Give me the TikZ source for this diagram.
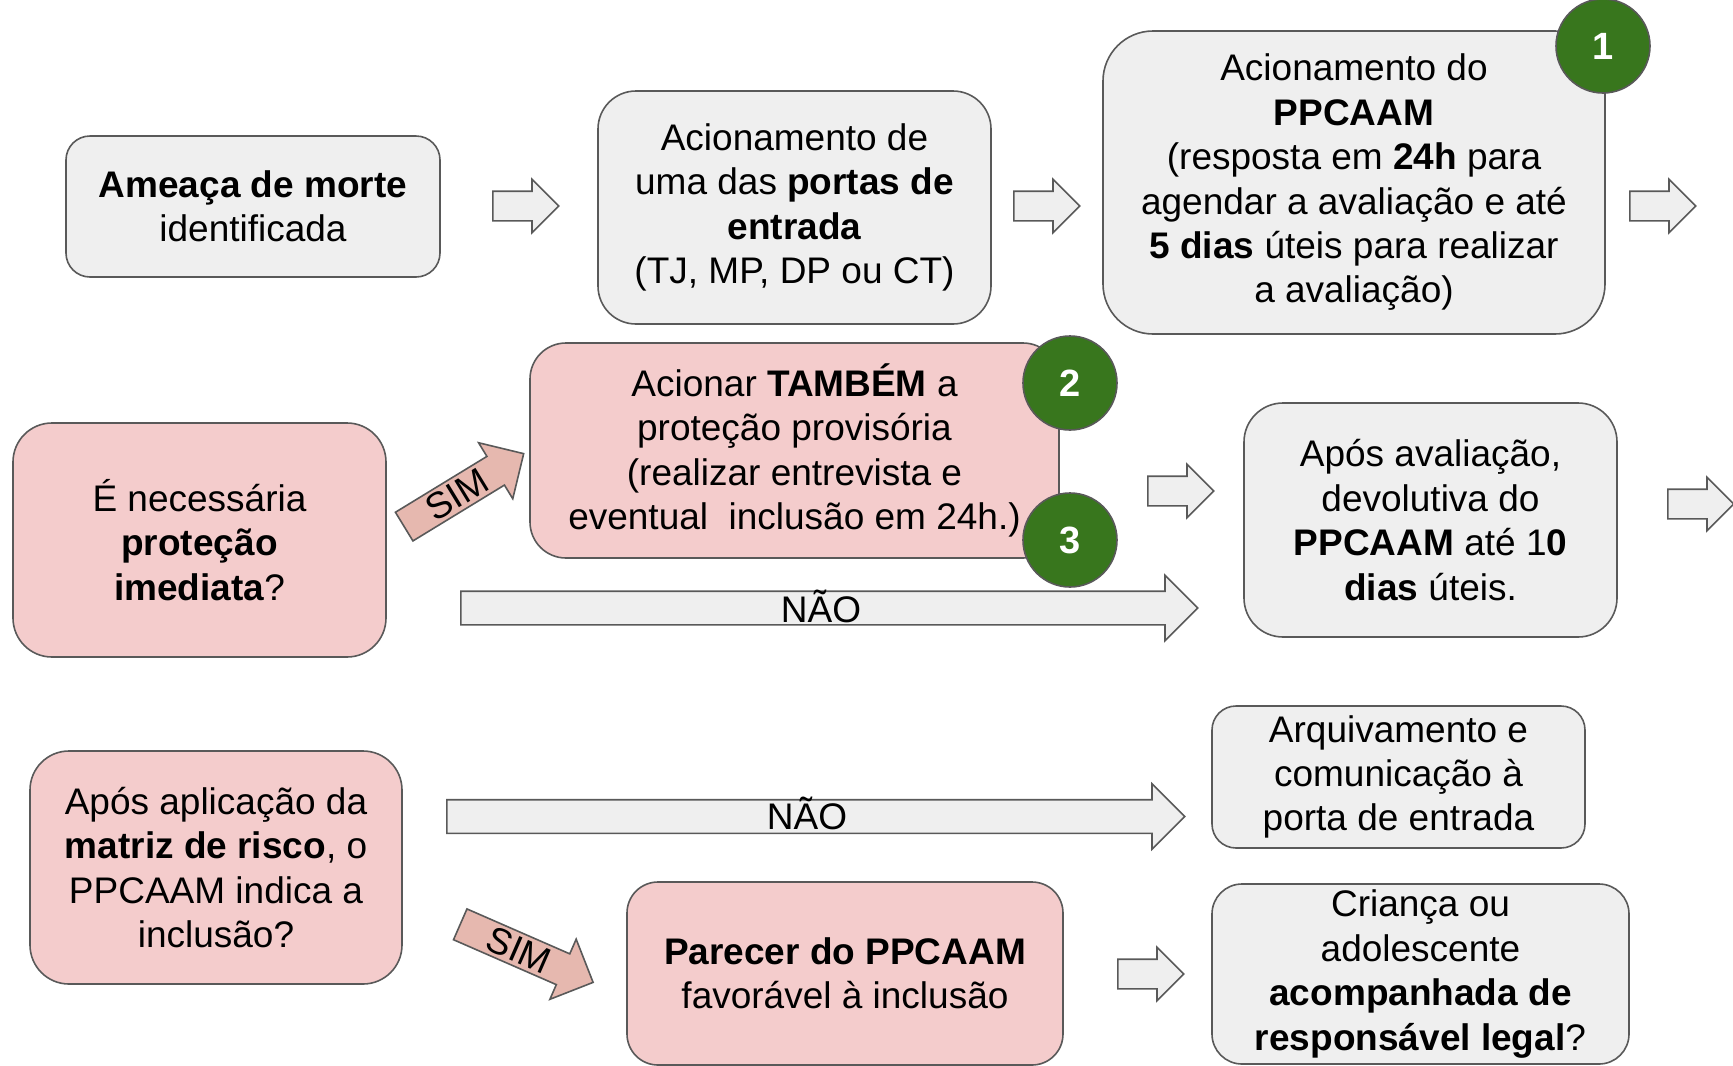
\documentclass[tikz,border=0pt]{standalone}
\usepackage{fontspec}
\setmainfont{Liberation Sans}
\usetikzlibrary{shapes.arrows}

\definecolor{cinza}{HTML}{EFEFEF}
\definecolor{borda}{HTML}{595959}
\definecolor{rosa}{HTML}{F4CCCC}
\definecolor{rosaseta}{HTML}{E6B8AF}
\definecolor{verde}{HTML}{38761D}

\tikzset{
  caixa/.style={draw=borda, line width=1.6pt, align=center, inner sep=0pt,
    font=\fontsize{37}{44.4}\selectfont},
  caixacinza/.style={caixa, fill=cinza},
  caixarosa/.style={caixa, fill=rosa},
  seta/.style={single arrow, draw=borda, fill=cinza, line width=1.6pt, anchor=tail,
    inner xsep=0pt, inner ysep=14pt,
    single arrow tip angle=90, single arrow head extend=12pt, minimum height=66pt},
  setalonga/.style={seta, inner ysep=16pt, single arrow head extend=16pt},
  setasim/.style={setalonga, fill=rosaseta, inner ysep=0pt, text height=29pt, text depth=3pt,
    font=\fontsize{37}{44.4}\selectfont},
  numero/.style={circle, draw=borda, fill=verde, line width=1.6pt, minimum size=94pt,
    inner sep=0pt, text=white, font=\fontsize{38}{44.4}\selectfont\bfseries},
}

\begin{document}
\begin{tikzpicture}[x=1pt,y=-1pt]
    \useasboundingbox (0,0) rectangle (1733,1066);

    % first row
    \node[caixacinza, rounded corners=24pt, minimum width=374pt, minimum height=141pt]
      (ameaca) at (253,206.5) {\textbf{Ameaça de morte}\\identificada};
    \node[caixacinza, rounded corners=38pt, minimum width=393pt, minimum height=233pt]
      (portas) at (794.5,207.5) {Acionamento de\\uma das \textbf{portas de}\\\textbf{entrada}\\(TJ, MP, DP ou CT)};
    \node[caixacinza, rounded corners=50pt, minimum width=502pt, minimum height=303pt]
      (ppcaam) at (1354,182.5) {Acionamento do\\\textbf{PPCAAM}\\(resposta em \textbf{24h} para\\agendar a avaliação e até\\\textbf{5 dias} úteis para realizar\\a avaliação)};
    \node[numero] (um) at (1603,46) {1};

    \node[seta] (s1) at (492,206) {};
    \node[seta] (s2) at (1013,206) {};
    \node[seta] (s3) at (1629,206) {};

    % second row
    \node[caixarosa, rounded corners=39pt, minimum width=373pt, minimum height=234pt]
      (imediata) at (199.5,540) {É necessária\\\textbf{proteção}\\\textbf{imediata}?};
    \node[caixarosa, rounded corners=36pt, minimum width=529pt, minimum height=215pt]
      (provisoria) at (794.5,450.5) {Acionar \textbf{TAMBÉM} a\\proteção provisória\\(realizar entrevista e\\eventual\ \ inclusão em 24h.)};
    \node[numero] (dois) at (1070,383) {2};
    \node[numero] (tres) at (1070,540) {3};
    \node[caixacinza, rounded corners=39pt, minimum width=373pt, minimum height=234pt]
      (devolutiva) at (1430.5,520) {Após avaliação,\\devolutiva do\\\textbf{PPCAAM} até 1\textbf{0}\\\textbf{dias} úteis.};

    \node[setasim, rotate=31.4, minimum height=140pt] (sim1) at (403.5,527) {SIM};
    \node[setalonga, minimum height=737pt] (nao1) at (460,608) {};
    \node[anchor=base, font=\fontsize{37}{44.4}\selectfont] (nao1txt) at (821,622) {NÃO};
    \node[seta] (s4) at (1147,491) {};
    \node[seta] (s5) at (1667,504) {};

    % third row
    \node[caixarosa, rounded corners=39pt, minimum width=372pt, minimum height=233pt]
      (matriz) at (216,867.5) {Após aplicação da\\\textbf{matriz de risco}, o\\PPCAAM indica a\\inclusão?};
    \node[caixacinza, rounded corners=24pt, minimum width=373pt, minimum height=142pt]
      (arquivo) at (1398.5,777) {Arquivamento e\\comunicação à\\porta de entrada};
    \node[caixarosa, rounded corners=31pt, minimum width=436pt, minimum height=183pt]
      (parecer) at (845,973.5) {\textbf{Parecer do PPCAAM}\\favorável à inclusão};
    \node[caixacinza, rounded corners=30pt, minimum width=417pt, minimum height=180pt]
      (crianca) at (1420.5,974) {Criança ou\\adolescente\\\textbf{acompanhada de}\\\textbf{responsável legal}?};

    \node[setalonga, minimum height=738pt] (nao2) at (446,816.5) {};
    \node[anchor=base, font=\fontsize{37}{44.4}\selectfont] (nao2txt) at (807,829) {NÃO};
    \node[setasim, rotate=-23.6, minimum height=145pt] (sim2) at (459.5,924) {SIM};
    \node[seta] (s6) at (1117,974) {};
\end{tikzpicture}
\end{document}
